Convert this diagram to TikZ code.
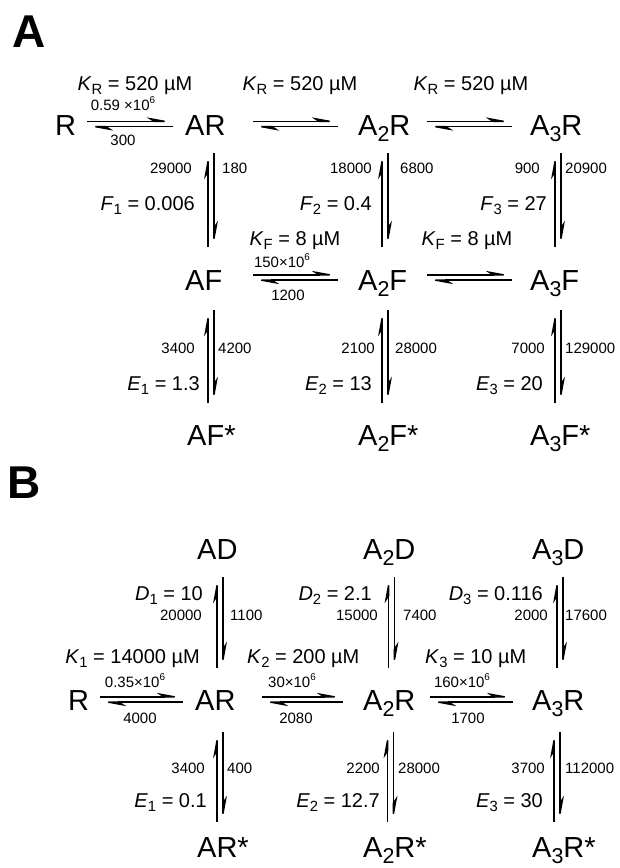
\documentclass[tikz,border=0pt]{standalone}
\usepackage{fontspec}
\setmainfont{Liberation Sans}
\usetikzlibrary{arrows.meta}
\newcommand\sbs[1]{\raisebox{-0.24em}{\scalebox{0.74}{#1}}}
\newcommand\sps[1]{\raisebox{0.42em}{\scalebox{0.66}{#1}}}
\newcommand\eqH[4]{%
  \coordinate (#1-tl) at (#2,#4-2.6);
  \coordinate (#1-tr) at (#3,#4-2.6);
  \coordinate (#1-bl) at (#2,#4+2.6);
  \coordinate (#1-br) at (#3,#4+2.6);
  \draw[harp] (#1-tl) -- (#1-tr);
  \draw[harp] (#1-br) -- (#1-bl);
}
\newcommand\eqV[4]{%
  \coordinate (#1-lt) at (#2-2.9,#3);
  \coordinate (#1-lb) at (#2-2.9,#4);
  \coordinate (#1-rt) at (#2+2.9,#3);
  \coordinate (#1-rb) at (#2+2.9,#4);
  \draw[harp] (#1-lb) -- (#1-lt);
  \draw[harp] (#1-rt) -- (#1-rb);
}
\tikzset{
  harp/.style={line width=1.5pt, -{Stealth[left,length=22pt,width=8pt,inset=6pt]}},
  sp/.style={font=\fontsize{29}{34}\selectfont, inner sep=0pt, anchor=base west},
  md/.style={font=\fontsize{20}{24}\selectfont, inner sep=0pt},
  sm/.style={font=\fontsize{15}{18}\selectfont, inner sep=0pt},
  pl/.style={font=\fontsize{46}{50}\selectfont\bfseries, inner sep=0pt, anchor=base west},
}
\begin{document}
\begin{tikzpicture}[x=1pt,y=-1pt]
\useasboundingbox (0,0) rectangle (619,868);
% ---------------- Panel A ----------------
\node[pl] (labA) at (12,47) {A};
% species
\node[sp] (aR) at (55,135) {R};
\node[sp] (aAR) at (185,135) {AR};
\node[sp] (aA2R) at (358,135) {A\sbs{2}R};
\node[sp] (aA3R) at (530,135) {A\sbs{3}R};
\node[sp] (aAF) at (185,290) {AF};
\node[sp] (aA2F) at (358,290) {A\sbs{2}F};
\node[sp] (aA3F) at (530,290) {A\sbs{3}F};
\node[sp] (aAFs) at (187,445) {AF*};
\node[sp] (aA2Fs) at (358,445) {A\sbs{2}F*};
\node[sp] (aA3Fs) at (530,445) {A\sbs{3}F*};
% horizontal equilibria
\eqH{ha1}{87}{173}{124}
\eqH{ha2}{253}{338}{124}
\eqH{ha3}{427}{512}{124}
\eqH{ha4}{253}{338}{277.5}
\eqH{ha5}{427}{512}{277.5}
% vertical equilibria
\eqV{va1}{211}{153}{247}
\eqV{va2}{385}{153}{247}
\eqV{va3}{558}{153}{247}
\eqV{va4}{211}{310}{403}
\eqV{va5}{385}{310}{403}
\eqV{va6}{558}{310}{403}
% labels
\node[md,anchor=base] (kr1) at (135,90) {\textit{K}\sbs{R} = 520 µM};
\node[md,anchor=base] (kr2) at (300,90) {\textit{K}\sbs{R} = 520 µM};
\node[md,anchor=base] (kr3) at (471,90) {\textit{K}\sbs{R} = 520 µM};
\node[sm,anchor=base] (ra1) at (123,110) {0.59 ×10\sps{6}};
\node[sm,anchor=base] (ra2) at (123,145) {300};
\node[sm,anchor=base east] (ra3) at (192,173) {29000};
\node[sm,anchor=base west] (ra4) at (222,173) {180};
\node[md,anchor=base east] (fa1) at (195,210) {\textit{F}\sbs{1} = 0.006};
\node[sm,anchor=base east] (ra5) at (372,173) {18000};
\node[sm,anchor=base west] (ra6) at (400,173) {6800};
\node[md,anchor=base east] (fa2) at (372,210) {\textit{F}\sbs{2} = 0.4};
\node[sm,anchor=base east] (ra7) at (540,173) {900};
\node[sm,anchor=base west] (ra8) at (565,173) {20900};
\node[md,anchor=base east] (fa3) at (547,210) {\textit{F}\sbs{3} = 27};
\node[md,anchor=base] (kf1) at (295,245) {\textit{K}\sbs{F} = 8 µM};
\node[md,anchor=base] (kf2) at (467,245) {\textit{K}\sbs{F} = 8 µM};
\node[sm,anchor=base] (ra9) at (282,267) {150×10\sps{6}};
\node[sm,anchor=base] (ra10) at (288,300) {1200};
\node[sm,anchor=base east] (ra11) at (195,353) {3400};
\node[sm,anchor=base west] (ra12) at (218,353) {4200};
\node[sm,anchor=base east] (ra13) at (375,353) {2100};
\node[sm,anchor=base west] (ra14) at (395,353) {28000};
\node[sm,anchor=base east] (ra15) at (545,353) {7000};
\node[sm,anchor=base west] (ra16) at (565,353) {129000};
\node[md,anchor=base east] (ea1) at (200,390) {\textit{E}\sbs{1} = 1.3};
\node[md,anchor=base east] (ea2) at (372,390) {\textit{E}\sbs{2} = 13};
\node[md,anchor=base east] (ea3) at (543,390) {\textit{E}\sbs{3} = 20};
% ---------------- Panel B ----------------
\node[pl] (labB) at (7,498) {B};
\node[sp] (bAD) at (197,559) {AD};
\node[sp] (bA2D) at (363,559) {A\sbs{2}D};
\node[sp] (bA3D) at (532,559) {A\sbs{3}D};
\node[sp] (bR) at (68,710) {R};
\node[sp] (bAR) at (195,710) {AR};
\node[sp] (bA2R) at (363,710) {A\sbs{2}R};
\node[sp] (bA3R) at (532,710) {A\sbs{3}R};
\node[sp] (bARs) at (197,857) {AR*};
\node[sp] (bA2Rs) at (363,857) {A\sbs{2}R*};
\node[sp] (bA3Rs) at (532,857) {A\sbs{3}R*};
\eqV{vb1}{220}{577}{668}
\eqV{vb2}{391.5}{577}{668}
\eqV{vb3}{560}{577}{668}
\eqV{vb4}{220}{732}{822}
\eqV{vb5}{390.5}{732}{822}
\eqV{vb6}{557}{732}{822}
\eqH{hb1}{100}{183}{699.5}
\eqH{hb2}{262}{343}{699.5}
\eqH{hb3}{430}{513}{699.5}
\node[md,anchor=base east] (db1) at (203,600) {\textit{D}\sbs{1} = 10};
\node[sm,anchor=base east] (rb1) at (202,620) {20000};
\node[sm,anchor=base west] (rb2) at (230,620) {1100};
\node[md,anchor=base east] (db2) at (372,600) {\textit{D}\sbs{2} = 2.1};
\node[sm,anchor=base east] (rb3) at (378,620) {15000};
\node[sm,anchor=base west] (rb4) at (403,620) {7400};
\node[md,anchor=base east] (db3) at (543,600) {\textit{D}\sbs{3} = 0.116};
\node[sm,anchor=base east] (rb5) at (548,620) {2000};
\node[sm,anchor=base west] (rb6) at (565,620) {17600};
\node[md,anchor=base east] (kb1) at (200,663) {\textit{K}\sbs{1} = 14000 µM};
\node[md,anchor=base west] (kb2) at (247,663) {\textit{K}\sbs{2} = 200 µM};
\node[md,anchor=base west] (kb3) at (425,663) {\textit{K}\sbs{3} = 10 µM};
\node[sm,anchor=base] (rb7) at (135,687) {0.35×10\sps{6}};
\node[sm,anchor=base] (rb8) at (140,723) {4000};
\node[sm,anchor=base] (rb9) at (292,687) {30×10\sps{6}};
\node[sm,anchor=base] (rb10) at (296,723) {2080};
\node[sm,anchor=base] (rb11) at (462,687) {160×10\sps{6}};
\node[sm,anchor=base] (rb12) at (468,723) {1700};
\node[sm,anchor=base east] (rb13) at (205,773) {3400};
\node[sm,anchor=base west] (rb14) at (227,773) {400};
\node[sm,anchor=base east] (rb15) at (380,773) {2200};
\node[sm,anchor=base west] (rb16) at (398,773) {28000};
\node[sm,anchor=base east] (rb17) at (545,773) {3700};
\node[sm,anchor=base west] (rb18) at (565,773) {112000};
\node[md,anchor=base east] (eb1) at (207,807) {\textit{E}\sbs{1} = 0.1};
\node[md,anchor=base east] (eb2) at (380,807) {\textit{E}\sbs{2} = 12.7};
\node[md,anchor=base east] (eb3) at (543,807) {\textit{E}\sbs{3} = 30};
\end{tikzpicture}
\end{document}
